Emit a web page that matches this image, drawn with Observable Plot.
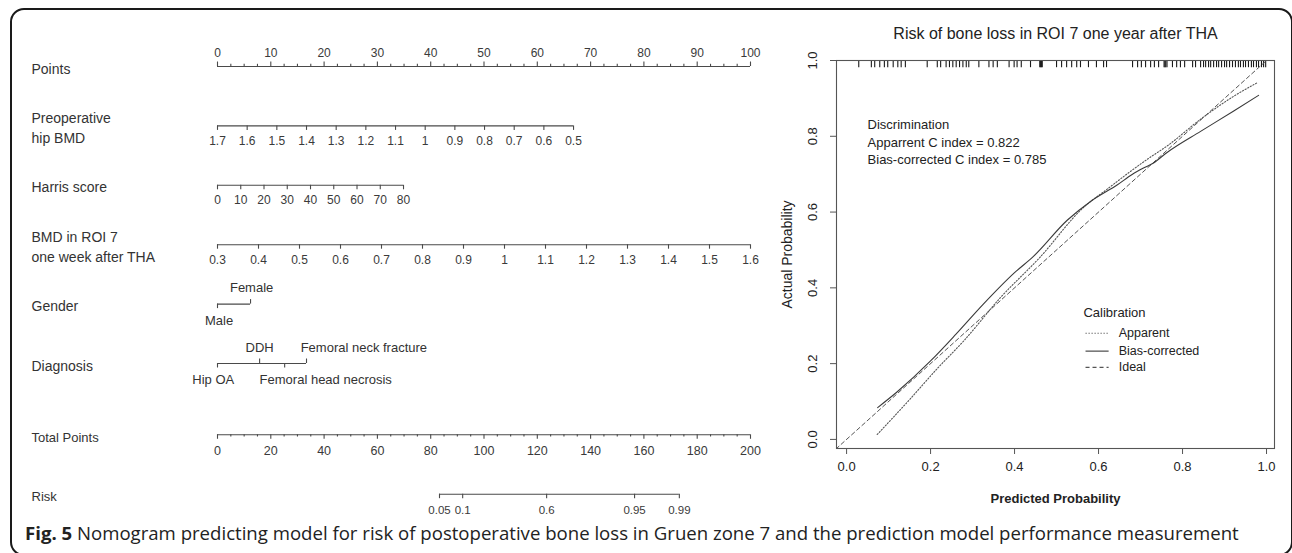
<!DOCTYPE html>
<html>
<head>
<meta charset="utf-8">
<script src="https://cdn.jsdelivr.net/npm/d3@7"></script>
<script src="https://cdn.jsdelivr.net/npm/@observablehq/plot@0.6"></script>
<style>
html, body { margin: 0; padding: 0; background: #fff; }
#wrap { position: relative; width: 1292px; height: 553px; overflow: hidden; background: #fff; }
#frame { position: absolute; left: 10px; top: 8px; width: 1283px; height: 548px; border: 2px solid #1a1a1a; border-radius: 14px; box-sizing: border-box; }
#nomo { position: absolute; left: 0; top: 0; }
#calib { position: absolute; left: 780px; top: 0; }
#caption { position: absolute; left: 25px; top: 520px; font-family: "Open Sans", sans-serif; font-size: 18.6px; color: #222; white-space: nowrap; }
#caption b { font-weight: 700; }
</style>
</head>
<body>
<div id="wrap">
  <div id="frame"></div>
  <div id="nomo"></div>
  <div id="calib"></div>
  <div id="caption"><b>Fig. 5</b> Nomogram predicting model for risk of postoperative bone loss in Gruen zone 7 and the prediction model performance measurement</div>
</div>
<script>
// ---------------- Nomogram data ----------------
const pointsTicks = [0, 10, 20, 30, 40, 50, 60, 70, 80, 90, 100];
const preopBMDTicks = [1.7, 1.6, 1.5, 1.4, 1.3, 1.2, 1.1, 1, 0.9, 0.8, 0.7, 0.6, 0.5];
const preopBMDRange = [1.7, 0.5];      // values
const preopBMDPoints = [0, 66.8];      // points at those values
const harrisTicks = [0, 10, 20, 30, 40, 50, 60, 70, 80];
const harrisRange = [0, 80];
const harrisPoints = [0, 34.9];
const roiBMDTicks = [0.3, 0.4, 0.5, 0.6, 0.7, 0.8, 0.9, 1, 1.1, 1.2, 1.3, 1.4, 1.5, 1.6];
const roiBMDRange = [0.3, 1.6];
const roiBMDPoints = [0, 100];
const genderLevels = ["Male", "Female"];
const genderPoints = [0, 6.2];
const genderLabelAt = [0.3, 6.4];
const genderSide = ["below", "above"];
const diagnosisLevels = ["Hip OA", "DDH", "Femoral head necrosis", "Femoral neck fracture"];
const diagnosisPoints = [0, 7.9, 12.6, 16.7];
const diagnosisLabelAt = [-0.8, 7.9, 7.9, 15.6];
const diagnosisSide = ["below", "above", "below", "above"];
const diagnosisAnchor = ["middle", "middle", "start", "start"];
const totalPointsTicks = [0, 20, 40, 60, 80, 100, 120, 140, 160, 180, 200];
const riskLabels = ["0.05", "0.1", "0.6", "0.95", "0.99"];
const riskTotalPoints = [83.3, 92.0, 123.5, 156.5, 173.3];

const rowNames = [
  {key: "points", name: "Points"},
  {key: "preop", name: "Preoperative\nhip BMD"},
  {key: "harris", name: "Harris score"},
  {key: "roi", name: "BMD in ROI 7\none week after THA"},
  {key: "gender", name: "Gender"},
  {key: "diagnosis", name: "Diagnosis"},
  {key: "total", name: "Total Points"},
  {key: "risk", name: "Risk"}
];

// ---------------- Calibration data ----------------
const apparentX = [0.073, 0.15, 0.216, 0.279, 0.367, 0.46, 0.564, 0.62, 0.683, 0.717, 0.764, 0.843, 0.921, 0.979];
const apparentY = [0.013, 0.105, 0.187, 0.26, 0.375, 0.48, 0.612, 0.66, 0.713, 0.74, 0.775, 0.845, 0.905, 0.942];
const biasX = [0.074, 0.12, 0.2, 0.26, 0.324, 0.4, 0.445, 0.526, 0.581, 0.645, 0.68, 0.707, 0.73, 0.764, 0.843, 0.921, 0.981];
const biasY = [0.084, 0.125, 0.207, 0.277, 0.355, 0.44, 0.483, 0.579, 0.628, 0.672, 0.699, 0.716, 0.729, 0.758, 0.813, 0.866, 0.908];
const idealX = [-0.05, 1.05];
const rugValues = [0.029,
  0.059, 0.067, 0.079, 0.090, 0.098, 0.111, 0.122, 0.130, 0.140,
  0.192,
  0.216, 0.224, 0.237, 0.245, 0.253, 0.261, 0.269, 0.277, 0.285, 0.291,
  0.315,
  0.339, 0.349, 0.359,
  0.387, 0.399, 0.406, 0.416,
  0.438,
  0.460, 0.462, 0.464, 0.466,
  0.500, 0.512, 0.524, 0.536, 0.548, 0.557,
  0.576, 0.595, 0.612, 0.619,
  0.681, 0.693, 0.702, 0.712, 0.724, 0.733, 0.743,
  0.756, 0.758, 0.760, 0.763,
  0.776, 0.786, 0.795, 0.805, 0.824, 0.831,
  0.843, 0.850, 0.855, 0.862, 0.867, 0.874, 0.881, 0.886, 0.893, 0.900, 0.905, 0.912,
  0.919, 0.926, 0.933, 0.938, 0.945, 0.950, 0.957, 0.964, 0.969, 0.976, 0.981, 0.988, 0.993, 0.998];
const xTicks = [0, 0.2, 0.4, 0.6, 0.8, 1.0];
const yTicks = [0, 0.2, 0.4, 0.6, 0.8, 1.0];
const legendLabels = ["Apparent", "Bias-corrected", "Ideal"];
const discriminationText = "Discrimination\nApparrent C index = 0.822\nBias-corrected C index = 0.785";

// ---------------- Build nomogram ----------------
const F = "'Liberation Sans', Arial, Helvetica, sans-serif";
const ROW_PX = 59.4;
const rowY = {points: 0, preop: 1, harris: 2, roi: 3, gender: 4, diagnosis: 5, total: 6.2, risk: 7.2};

const preopScale = d3.scaleLinear(preopBMDRange, preopBMDPoints);
const harrisScale = d3.scaleLinear(harrisRange, harrisPoints);
const roiScale = d3.scaleLinear(roiBMDRange, roiBMDPoints);
const totalToX = v => v / 2; // total points 0-200 drawn across the same width as points 0-100

const spans = [
  {y: rowY.points, x1: 0, x2: 100},
  {y: rowY.preop, x1: preopScale(preopBMDRange[0]), x2: preopScale(preopBMDRange[1])},
  {y: rowY.harris, x1: harrisScale(harrisRange[0]), x2: harrisScale(harrisRange[1])},
  {y: rowY.roi, x1: roiScale(roiBMDRange[0]), x2: roiScale(roiBMDRange[1])},
  {y: rowY.gender, x1: d3.min(genderPoints), x2: d3.max(genderPoints)},
  {y: rowY.diagnosis, x1: d3.min(diagnosisPoints), x2: d3.max(diagnosisPoints)},
  {y: rowY.total, x1: totalToX(0), x2: totalToX(200)},
  {y: rowY.risk, x1: totalToX(d3.min(riskTotalPoints)), x2: totalToX(d3.max(riskTotalPoints))}
];

const ticks = [];
const MAJ = 4.5, MIN = 2.2;
pointsTicks.forEach(v => ticks.push({y: rowY.points, x: v, dir: -1, len: MAJ}));
d3.range(0, 100.01, 2.5).filter(v => v % 10 !== 0).forEach(v => ticks.push({y: rowY.points, x: v, dir: -1, len: MIN}));
preopBMDTicks.forEach(v => ticks.push({y: rowY.preop, x: preopScale(v), dir: 1, len: MAJ}));
harrisTicks.forEach(v => ticks.push({y: rowY.harris, x: harrisScale(v), dir: 1, len: MAJ}));
roiBMDTicks.forEach(v => ticks.push({y: rowY.roi, x: roiScale(v), dir: 1, len: MAJ}));
genderPoints.forEach((p, i) => ticks.push({y: rowY.gender, x: p, dir: genderSide[i] === "above" ? -1 : 1, len: MAJ}));
diagnosisPoints.forEach((p, i) => ticks.push({y: rowY.diagnosis, x: p, dir: diagnosisSide[i] === "above" ? -1 : 1, len: MAJ}));
totalPointsTicks.forEach(v => ticks.push({y: rowY.total, x: totalToX(v), dir: 1, len: MAJ}));
d3.range(0, 200.01, 5).filter(v => v % 20 !== 0).forEach(v => ticks.push({y: rowY.total, x: totalToX(v), dir: 1, len: MIN}));
riskTotalPoints.forEach(v => ticks.push({y: rowY.risk, x: totalToX(v), dir: 1, len: MAJ}));

const numFill = "#3a3a3a";
const txt = (data, opts) => Plot.text(data, {fill: numFill, fontFamily: F, fontSize: 12, ...opts});

const nomo = Plot.plot({
  width: 780, height: 530,
  marginLeft: 0, marginRight: 0, marginTop: 0, marginBottom: 0,
  x: {domain: [0, 100], range: [217, 750], axis: null},
  y: {domain: [0, 1], range: [66, 66 + ROW_PX], axis: null},
  style: {background: "transparent", fontFamily: F, color: "#333", overflow: "visible"},
  marks: [
    Plot.ruleY(spans, {y: "y", x1: "x1", x2: "x2", stroke: "#4a4a4a", strokeWidth: 1.1}),
    Plot.ruleX(ticks, {x: "x", y1: "y", y2: d => d.y + d.dir * d.len / ROW_PX, stroke: "#4a4a4a", strokeWidth: 1.1}),
    // row names
    Plot.text(rowNames.filter(d => d.key !== "total" && d.key !== "risk"), {y: d => rowY[d.key], text: "name", frameAnchor: "left", textAnchor: "start", dx: 31, dy: 1, fill: "#333", fontSize: 14, lineHeight: 1.38, fontFamily: F}),
    Plot.text(rowNames.filter(d => d.key === "total" || d.key === "risk"), {y: d => rowY[d.key], text: "name", frameAnchor: "left", textAnchor: "start", dx: 31, dy: 3, fill: "#333", fontSize: 13, fontFamily: F}),
    // numeric tick labels
    txt(pointsTicks, {x: d => d, y: () => rowY.points, text: d => String(d), dy: -13}),
    txt(preopBMDTicks, {x: d => preopScale(d), y: () => rowY.preop, text: d => String(d), dy: 15}),
    txt(harrisTicks, {x: d => harrisScale(d), y: () => rowY.harris, text: d => String(d), dy: 15}),
    txt(roiBMDTicks, {x: d => roiScale(d), y: () => rowY.roi, text: d => String(d), dy: 15}),
    txt(totalPointsTicks, {x: d => totalToX(d), y: () => rowY.total, text: d => String(d), dy: 16, fontSize: 12.5}),
    txt(riskLabels, {x: (d, i) => totalToX(riskTotalPoints[i]), y: () => rowY.risk, text: d => d, dy: 16, fontSize: 11.5}),
    // categorical labels
    txt(genderLevels.filter((d, i) => genderSide[i] === "above"), {x: d => genderLabelAt[genderLevels.indexOf(d)], y: () => rowY.gender, text: d => d, dy: -16, fontSize: 13, fill: "#333"}),
    txt(genderLevels.filter((d, i) => genderSide[i] === "below"), {x: d => genderLabelAt[genderLevels.indexOf(d)], y: () => rowY.gender, text: d => d, dy: 17, fontSize: 13, fill: "#333"}),
    ...[["above", "middle", -16], ["above", "start", -16], ["below", "middle", 16], ["below", "start", 16]].map(([side, anchor, dy]) =>
      txt(diagnosisLevels.filter((d, i) => diagnosisSide[i] === side && diagnosisAnchor[i] === anchor),
        {x: d => diagnosisLabelAt[diagnosisLevels.indexOf(d)], y: () => rowY.diagnosis, text: d => d, dy, textAnchor: anchor, fontSize: 13, fill: "#333"}))
  ]
});
document.getElementById("nomo").appendChild(nomo);

// ---------------- Build calibration plot ----------------
const apparent = apparentX.map((x, i) => ({x, y: apparentY[i]}));
const bias = biasX.map((x, i) => ({x, y: biasY[i]}));
const ideal = idealX.map(x => ({x, y: x}));
const legendY = [0.28, 0.233, 0.19];
const legendDash = ["1.2,1.8", null, "4,3"];
const lineCol = "#3a3a3a";

const calib = Plot.plot({
  width: 512, height: 515,
  marginLeft: 56, marginRight: 18, marginTop: 60, marginBottom: 67,
  x: {domain: [-0.024, 1.019]},
  y: {domain: [-0.024, 1.0]},
  style: {background: "transparent", fontFamily: F, fontSize: "13px", color: "#222", overflow: "visible"},
  marks: [
    Plot.axisX({ticks: xTicks, tickFormat: d3.format(".1f"), tickSize: 6, tickPadding: 7, stroke: "#555", fill: "#222", fontSize: 13, label: null}),
    Plot.axisY({ticks: yTicks, tickFormat: d3.format(".1f"), tickSize: 6, tickPadding: 14, tickRotate: -90, stroke: "#555", fill: "#222", fontSize: 13, label: null}),
    Plot.ruleX(rugValues, {x: d => d, y1: 1.0, y2: 0.981, stroke: "#1a1a1a", strokeWidth: 1.1}),
    Plot.line(ideal, {x: "x", y: "y", stroke: "#555", strokeDasharray: "4,3", strokeWidth: 1, clip: true}),
    Plot.line(apparent, {x: "x", y: "y", stroke: "#555", strokeDasharray: "1.2,1.8", strokeWidth: 1.1, curve: "monotone-x"}),
    Plot.line(bias, {x: "x", y: "y", stroke: lineCol, strokeWidth: 1.1, curve: "monotone-x"}),
    Plot.frame({stroke: "#555", strokeWidth: 1.1}),
    Plot.text([discriminationText], {x: 0.05, y: 0.787, text: d => d, textAnchor: "start", lineHeight: 1.35, fill: "#222", fontSize: 13}),
    Plot.text(["Calibration"], {x: 0.564, y: 0.335, text: d => d, textAnchor: "start", fill: "#222", fontSize: 13}),
    ...legendLabels.map((lab, i) => Plot.link([lab], {x1: 0.569, x2: 0.624, y1: legendY[i], y2: legendY[i], stroke: i === 1 ? lineCol : "#555", strokeWidth: 1.1, strokeDasharray: legendDash[i] || undefined})),
    Plot.text(legendLabels, {x: 0.648, y: (d, i) => legendY[i], text: d => d, textAnchor: "start", fill: "#222", fontSize: 12.5}),
    Plot.text(["Risk of bone loss in ROI 7 one year after THA"], {frameAnchor: "top", dy: -27, lineAnchor: "middle", text: d => d, fontSize: 16, fill: "#222"}),
    Plot.text(["Predicted Probability"], {frameAnchor: "bottom", dy: 50, lineAnchor: "middle", text: d => d, fontSize: 13, fontWeight: "bold", fill: "#222"}),
    Plot.text(["Actual Probability"], {frameAnchor: "left", dx: -49, rotate: -90, textAnchor: "middle", lineAnchor: "middle", text: d => d, fontSize: 14, fill: "#222"})
  ]
});
document.getElementById("calib").appendChild(calib);
</script>
</body>
</html>
